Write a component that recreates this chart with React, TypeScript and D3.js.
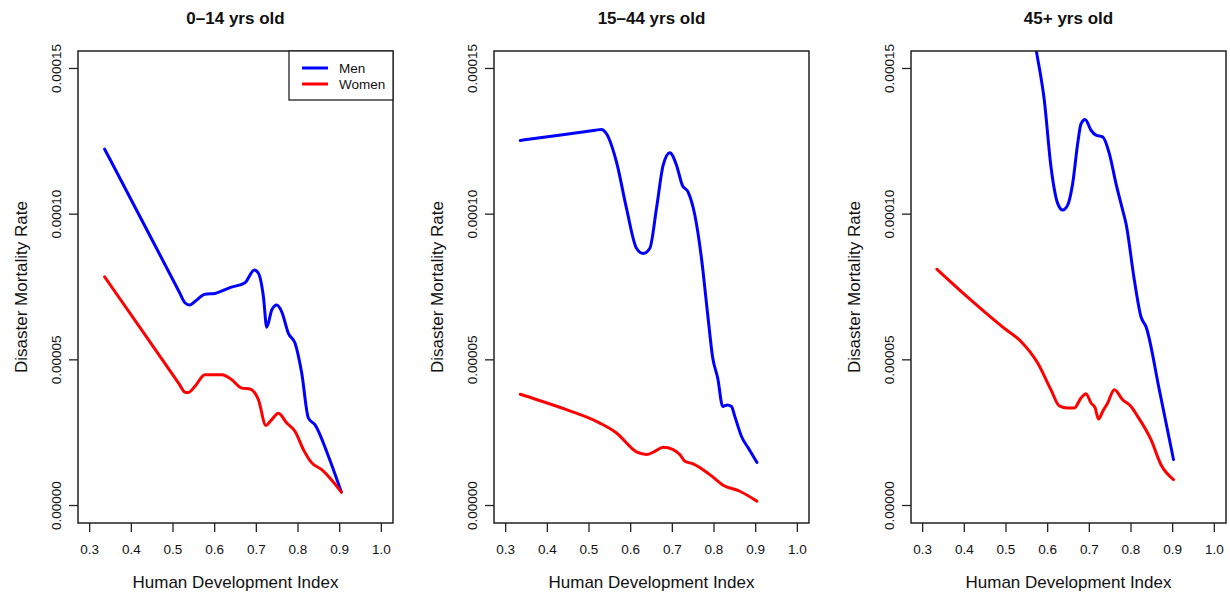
import React from "react";
import * as d3 from "d3";

// ---- Data ----
const panelTitles = ["0–14 yrs old", "15–44 yrs old", "45+ yrs old"];
const seriesNames = ["Men", "Women"];
const seriesColors = ["#0000ff", "#ff0000"];

const xTicks = [0.3, 0.4, 0.5, 0.6, 0.7, 0.8, 0.9, 1.0];
const xTickLabels = ["0.3", "0.4", "0.5", "0.6", "0.7", "0.8", "0.9", "1.0"];
const yTicks = [0, 0.00005, 0.0001, 0.00015];
const yTickLabels = ["0.00000", "0.00005", "0.00010", "0.00015"];

// [HDI, mortality rate]
const men0to14: [number, number][] = [
  [0.336, 0.0001223], [0.35, 0.0001185], [0.515, 0.0000733], [0.5285, 0.0000696],
  [0.5405, 0.0000688], [0.5526, 0.00007],
  [0.5766, 0.0000725], [0.6007, 0.0000728], [0.6368, 0.0000748], [0.6729, 0.0000765],
  [0.6953, 0.0000808], [0.705, 0.0000797], [0.717, 0.0000717], [0.725, 0.0000612],
  [0.737, 0.0000671], [0.749, 0.0000688], [0.761, 0.0000665], [0.777, 0.0000591],
  [0.793, 0.0000557], [0.809, 0.0000454], [0.825, 0.00003], [0.841, 0.0000277],
  [0.873, 0.0000169], [0.904, 0.0000046],
];
const women0to14: [number, number][] = [
  [0.336, 0.0000785], [0.35, 0.0000756], [0.515, 0.0000417], [0.5285, 0.0000389],
  [0.5366, 0.0000388], [0.5526, 0.0000409],
  [0.5766, 0.0000449], [0.617, 0.0000449], [0.641, 0.0000432], [0.665, 0.0000403],
  [0.685, 0.00004], [0.705, 0.0000363], [0.723, 0.0000275], [0.737, 0.0000295],
  [0.753, 0.0000317], [0.773, 0.0000283], [0.793, 0.0000254], [0.813, 0.0000192],
  [0.832, 0.0000148], [0.857, 0.0000123], [0.904, 0.0000046],
];
const men15to44: [number, number][] = [
  [0.335, 0.0001253], [0.35, 0.0001256], [0.515, 0.0001288], [0.53, 0.0001291],
  [0.542, 0.0001276], [0.566, 0.0001179],
  [0.59, 0.000102], [0.614, 0.0000883], [0.63, 0.0000865], [0.646, 0.0000883],
  [0.662, 0.000102], [0.678, 0.0001168], [0.694, 0.0001211], [0.71, 0.0001168],
  [0.724, 0.0001099], [0.738, 0.0001076], [0.754, 0.0000997], [0.77, 0.0000848],
  [0.785, 0.0000654], [0.797, 0.0000506], [0.809, 0.0000437], [0.821, 0.000034],
  [0.832, 0.0000345], [0.842, 0.000034], [0.85, 0.0000306], [0.866, 0.0000237],
  [0.882, 0.0000198], [0.903, 0.0000148],
];
const women15to44: [number, number][] = [
  [0.335, 0.0000382], [0.35, 0.0000375], [0.446, 0.0000329], [0.526, 0.0000283],
  [0.566, 0.0000249],
  [0.614, 0.0000184], [0.638, 0.0000175], [0.658, 0.0000186], [0.678, 0.00002],
  [0.702, 0.0000192], [0.718, 0.0000175], [0.73, 0.0000152], [0.75, 0.0000143],
  [0.79, 0.0000106], [0.822, 0.00000695], [0.862, 0.0000049], [0.903, 0.0000015],
];
const men45plus: [number, number][] = [
  [0.55, 0.000176], [0.573, 0.0001559], [0.592, 0.000139], [0.608, 0.0001162],
  [0.624, 0.0001037], [0.636, 0.0001014], [0.648, 0.0001031], [0.66, 0.0001105],
  [0.672, 0.0001242], [0.68, 0.000131], [0.69, 0.0001325], [0.704, 0.0001288],
  [0.716, 0.0001271], [0.732, 0.0001265], [0.748, 0.0001208], [0.764, 0.0001105],
  [0.78, 0.0001014], [0.788, 0.0000968], [0.808, 0.0000774], [0.824, 0.0000648],
  [0.836, 0.0000614], [0.868, 0.0000397], [0.902, 0.0000158],
];
const women45plus: [number, number][] = [
  [0.334, 0.0000811], [0.35, 0.000079], [0.416, 0.0000705], [0.496, 0.0000608],
  [0.536, 0.0000563],
  [0.576, 0.0000489], [0.608, 0.0000397], [0.628, 0.0000342], [0.648, 0.0000335],
  [0.664, 0.0000335], [0.68, 0.0000369], [0.692, 0.0000384], [0.704, 0.0000352],
  [0.714, 0.0000335], [0.722, 0.0000297], [0.732, 0.0000323], [0.744, 0.0000352],
  [0.76, 0.0000397], [0.78, 0.0000363], [0.8, 0.000034], [0.816, 0.0000306],
  [0.848, 0.0000226], [0.872, 0.000014], [0.902, 0.0000089],
];

const panelSeries = [
  [men0to14, women0to14],
  [men15to44, women15to44],
  [men45plus, women45plus],
];

// ---- Layout ----
const W = 1230;
const H = 597;
const boxLefts = [78, 494, 911];
const boxW = 315;
const boxTop = 51;
const boxBottom = 523;
const FONT = "'Liberation Sans', Arial, Helvetica, sans-serif";

function Panel({ idx }: { idx: number }) {
  const left = boxLefts[idx];
  const x = d3.scaleLinear().domain([0.272, 1.028]).range([left, left + boxW]);
  const y = d3.scaleLinear().domain([-0.000006, 0.000156]).range([boxBottom, boxTop]);
  const line = d3
    .line<[number, number]>()
    .x((d) => x(d[0]))
    .y((d) => y(d[1]))
    .curve(d3.curveMonotoneX);
  const cx = left + boxW / 2;
  const cy = (boxTop + boxBottom) / 2;
  const clipId = `clip-${idx}`;
  return (
    <g>
      <defs>
        <clipPath id={clipId}>
          <rect x={left} y={boxTop} width={boxW} height={boxBottom - boxTop} />
        </clipPath>
      </defs>
      <text x={cx} y={24} textAnchor="middle" fontWeight="bold" fontSize={17} fill="#111">
        {panelTitles[idx]}
      </text>
      {/* series */}
      <g clipPath={`url(#${clipId})`}>
        {panelSeries[idx].map((s, i) => (
          <path key={i} d={line(s) || ""} fill="none" stroke={seriesColors[i]} strokeWidth={3}
            strokeLinejoin="round" strokeLinecap="round" />
        ))}
      </g>
      {/* box */}
      <rect x={left} y={boxTop} width={boxW} height={boxBottom - boxTop} fill="none" stroke="#222" strokeWidth={1.5} />
      {/* x axis */}
      {xTicks.map((t, i) => (
        <g key={`xt${i}`}>
          <line x1={x(t)} x2={x(t)} y1={boxBottom} y2={boxBottom + 9} stroke="#222" strokeWidth={1.3} />
          <text x={x(t)} y={554} textAnchor="middle" fontSize={13.5} fill="#111">{xTickLabels[i]}</text>
        </g>
      ))}
      {/* y axis */}
      {yTicks.map((t, i) => (
        <g key={`yt${i}`}>
          <line x1={left - 9} x2={left} y1={y(t)} y2={y(t)} stroke="#222" strokeWidth={1.3} />
          <text transform={`translate(${left - 17.5},${y(t)}) rotate(-90)`} textAnchor="middle" fontSize={13.5} fill="#111">
            {yTickLabels[i]}
          </text>
        </g>
      ))}
      <text x={cx} y={588} textAnchor="middle" fontSize={17} fill="#111">Human Development Index</text>
      <text transform={`translate(${left - 51},${cy}) rotate(-90)`} textAnchor="middle" fontSize={17} fill="#111">
        Disaster Mortality Rate
      </text>
      {idx === 0 && (
        <g>
          <rect x={289} y={boxTop} width={left + boxW - 289} height={49} fill="#fff" stroke="#222" strokeWidth={1.3} />
          {seriesNames.map((n, i) => (
            <g key={n}>
              <line x1={302} x2={328} y1={68 + i * 16} y2={68 + i * 16} stroke={seriesColors[i]} strokeWidth={3} />
              <text x={339} y={73 + i * 16} fontSize={13.5} fill="#111">{n}</text>
            </g>
          ))}
        </g>
      )}
    </g>
  );
}

export default function App() {
  return (
    <svg width={W} height={H} style={{ position: "absolute", left: 0, top: 0, background: "#fff" }} fontFamily={FONT}>
      <rect width={W} height={H} fill="#fff" />
      {[0, 1, 2].map((i) => (
        <Panel key={i} idx={i} />
      ))}
    </svg>
  );
}
